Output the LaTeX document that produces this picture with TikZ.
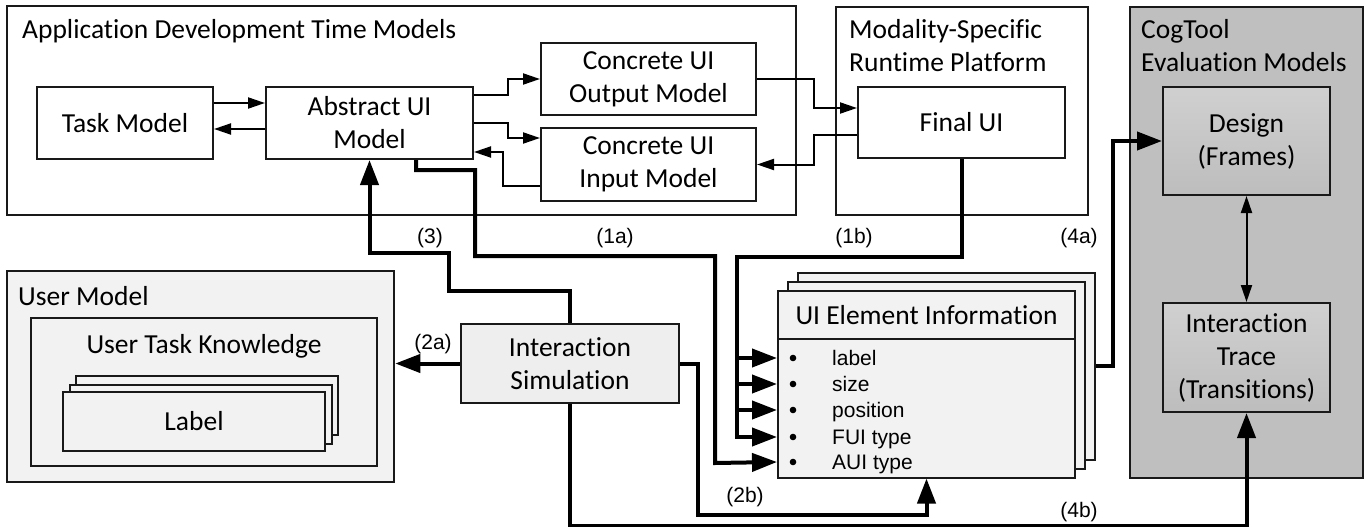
\documentclass[tikz,border=0pt]{standalone}
\usepackage{fontspec}
\setmainfont{Carlito}[Ligatures=NoCommon]
\newfontfamily\arialfont{Liberation Sans}
\usetikzlibrary{arrows.meta}
\definecolor{lightfill}{RGB}{242,242,242}
\definecolor{simfill}{RGB}{238,238,238}
\definecolor{cogbg}{RGB}{191,191,191}
\definecolor{coghi}{RGB}{208,208,208}
\definecolor{coglo}{RGB}{189,189,189}
\definecolor{edge}{RGB}{25,25,25}

\begin{document}
\begin{tikzpicture}[x=1pt,y=-1pt,
  txt/.style={font=\fontsize{27.5}{33}\selectfont},
  box/.style={draw=edge, line width=2pt, align=center, inner sep=0pt, txt, fill=white},
  group/.style={draw=edge, line width=2.5pt, inner sep=0pt},
  title/.style={txt, inner sep=0pt, anchor=base west},
  lbl/.style={font=\arialfont\fontsize{21}{25}\selectfont, inner sep=0pt},
  item/.style={font=\arialfont\fontsize{21}{25}\selectfont, inner sep=0pt,
    text height=15pt, text depth=0pt, anchor=west},
  conn/.style={line width=2pt, -{Triangle[length=17pt,width=11pt]}},
  bigconn/.style={line width=4pt, -{Triangle[length=25pt,width=18pt]}},
  cogin/.style={box, top color=coghi, bottom color=coglo, minimum width=167pt}
]
\useasboundingbox (0,0) rectangle (1368,527);

% ---------- group frames ----------
\node[group, minimum width=789pt, minimum height=209pt] (appdev) at (401.5,110.5) {};
\node[title] (appdevtitle) at (22,39) {Application Development Time Models};

\node[group, minimum width=252pt, minimum height=208pt] (modality) at (962,111) {};
\node[title] (modtitleA) at (849,39) {Modality-Specific};
\node[title] (modtitleB) at (849,72) {Runtime Platform};

\node[group, fill=cogbg, minimum width=233pt, minimum height=471pt] (cogtool) at (1246.5,242.5) {};
\node[title] (cogtitleA) at (1141,39) {CogTool};
\node[title] (cogtitleB) at (1141,72) {Evaluation Models};

\node[group, fill=lightfill, minimum width=387pt, minimum height=211pt] (usermodel) at (200.5,376.5) {};
\node[title] (usertitle) at (18,305) {User Model};

% ---------- development time models ----------
\node[box, minimum width=176pt, minimum height=72pt] (task) at (125,123) {Task Model};
\node[box, minimum width=207pt, minimum height=72pt] (abstract) at (369.5,123) {Abstract UI\\Model};
\node[box, minimum width=215pt, minimum height=72pt] (cuiout) at (648.5,79) {Concrete UI\\Output Model};
\node[box, minimum width=215pt, minimum height=73pt] (cuiin) at (648.5,164.5) {Concrete UI\\Input Model};

% ---------- runtime platform ----------
\node[box, minimum width=207pt, minimum height=71pt] (finalui) at (961.5,122.5) {Final UI};

% ---------- CogTool models ----------
\node[cogin, minimum height=108pt] (design) at (1246.5,141) {Design\\(Frames)};
\node[cogin, minimum height=109pt] (trace) at (1246.5,357.5) {Interaction\\Trace\\(Transitions)};

% ---------- user model ----------
\node[box, fill=lightfill, minimum width=346pt, minimum height=148pt] (utk) at (204,392) {};
\node[txt, inner sep=0pt, anchor=base] (utktitle) at (204,353) {User Task Knowledge};
\node[box, fill=lightfill, minimum width=262pt, minimum height=59pt] (labelC) at (207,405.5) {};
\node[box, fill=lightfill, minimum width=262pt, minimum height=59pt] (labelB) at (200.5,414) {};
\node[box, fill=lightfill, minimum width=262pt, minimum height=59pt] (labelA) at (194,421.5) {Label};

% ---------- interaction simulation ----------
\node[box, fill=simfill, minimum width=218pt, minimum height=79pt] (intsim) at (570,363.5) {Interaction\\Simulation};

% ---------- UI element information (stacked) ----------
\node[box, fill=lightfill, minimum width=297pt, minimum height=187pt] (uielB) at (946.5,366) {};
\node[box, fill=lightfill, minimum width=297pt, minimum height=187pt] (uielM) at (936.5,375) {};
\node[box, fill=lightfill, minimum width=297pt, minimum height=187pt] (uiel) at (926.5,384) {};
\draw[line width=2pt, draw=edge] ([yshift=-49.5pt]uiel.north west) -- ([yshift=-49.5pt]uiel.north east);
\node[txt, inner sep=0pt] (uielhead) at (926.5,315) {UI Element Information};

\node[item] (r1) at (832,358) {label};
\node[item] (r2) at (832,384) {size};
\node[item] (r3) at (832,410) {position};
\node[item] (r4) at (832,437) {FUI type};
\node[item] (r5) at (832,462) {AUI type};
\foreach \r in {r1,r2,r3,r4,r5}
  \fill ([xshift=-39pt]\r.west) circle (3.3);

% ---------- thin connectors ----------
\draw[conn] ([yshift=20pt]task.east) -- ([yshift=20pt]abstract.west);
\draw[conn] ([yshift=-6pt]abstract.west) -- ([yshift=-6pt]task.east);
\draw[conn] ([yshift=28pt]abstract.east) -- ++(34,0) |- (cuiout.west);
\draw[conn] (abstract.east) -- ++(34,0) |- ([yshift=26.5pt]cuiin.west);
\draw[conn] ([yshift=-21.5pt]cuiin.west) -- ++(-37,0) |- ([yshift=-29pt]abstract.east);
\draw[conn] (cuiout.east) -- ++(57,0) |- ([yshift=14.5pt]finalui.west);
\draw[conn] ([yshift=-12.5pt]finalui.west) -- ++(-43,0) |- (cuiin.east);
\draw[conn, {Triangle[length=17pt,width=11pt]}-{Triangle[length=17pt,width=11pt]}] (design.south) -- (trace.north);

% ---------- thick connectors ----------
% (3) simulation feeds back into the abstract UI model
\draw[bigconn] (intsim.north) -- ++(0,-32) -| ++(-121,-38) -| (abstract.south);
% (1a) abstract UI model provides the AUI type
\draw[bigconn] ([xshift=46.5pt]abstract.south) -- ++(0,10) -| ++(59,86) -| ++(240,207) -- (uiel.west |- r5);
% (1b) final UI provides label, size, position and FUI type
\coordinate (trunk) at (737,257);
\draw[bigconn] (finalui.south) |- (trunk) |- (uiel.west |- r4);
\foreach \r in {r1,r2,r3}
  \draw[bigconn] (trunk |- \r) -- (uiel.west |- \r);
% (2a), (2b)
\draw[bigconn] (intsim.west) -- (usermodel.east |- intsim.west);
\draw[bigconn] (intsim.east) -- ++(18,0) -- ++(0,151) -| (uiel.south);
% (4a), (4b)
\draw[bigconn] (uielB.east) -- ++(17,0) |- (design.west);
\draw[bigconn] (intsim.south) -- ++(0,122) -| (trace.south);

% ---------- connector labels ----------
\node[lbl] (l3) at (430,238) {(3)};
\node[lbl] (l1a) at (615,238) {(1a)};
\node[lbl] (l1b) at (854,238) {(1b)};
\node[lbl] (l4a) at (1079,238) {(4a)};
\node[lbl] (l2a) at (433,344) {(2a)};
\node[lbl] (l2b) at (745,497) {(2b)};
\node[lbl] (l4b) at (1079,512) {(4b)};
\end{tikzpicture}
\end{document}
